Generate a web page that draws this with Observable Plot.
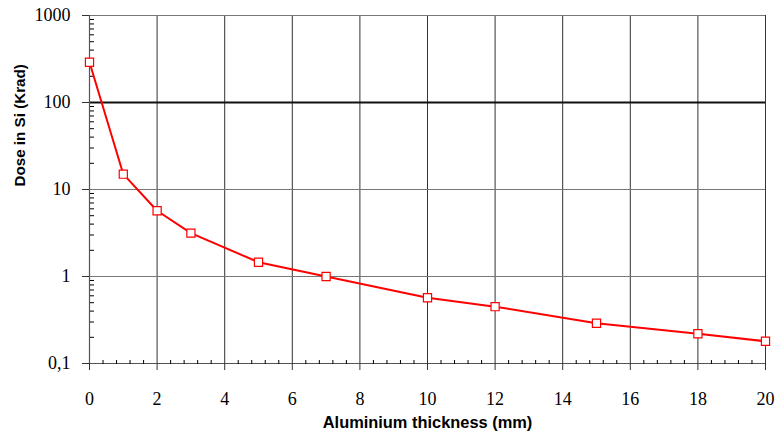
<!DOCTYPE html>
<html>
<head>
<meta charset="utf-8">
<script src="https://cdn.jsdelivr.net/npm/d3@7"></script>
<script src="https://cdn.jsdelivr.net/npm/@observablehq/plot@0.6"></script>
<style>
  body { margin: 0; background: #fff; }
</style>
</head>
<body>
<div id="chart"></div>
<script>
// Dose behind aluminium shielding
const thickness = [0, 1, 2, 3, 5, 7, 10, 12, 15, 18, 20];
const dose = [290, 15, 5.7, 3.15, 1.46, 1.0, 0.57, 0.45, 0.29, 0.22, 0.18];

const xTicks = [0, 2, 4, 6, 8, 10, 12, 14, 16, 18, 20];
const yTicks = [0.1, 1, 10, 100, 1000];
const yTickLabels = ["0,1", "1", "10", "100", "1000"];
const xTitle = "Aluminium thickness (mm)";
const yTitle = "Dose in Si (Krad)";

const points = thickness.map((t, i) => ({thickness: t, dose: dose[i]}));

// minor ticks: every 0.4 mm along x, 2..9 within each decade along y
const xMinor = d3.range(0, 20.001, 0.4).map(v => +v.toFixed(1)).filter(v => Math.abs(v / 2 - Math.round(v / 2)) > 1e-6);
const yMinor = yTicks.slice(0, -1).flatMap(d => d3.range(2, 10).map(m => +(d * m).toPrecision(3)));

const serif = "'Liberation Serif', 'Times New Roman', serif";
const sans = "'Liberation Sans', Arial, sans-serif";

const chart = Plot.plot({
  width: 777,
  height: 436,
  marginLeft: 89,
  marginRight: 12,
  marginTop: 15,
  marginBottom: 73,
  style: {background: "#fff", color: "#000"},
  x: {domain: [0, 20]},
  y: {type: "log", domain: [0.1, 1000]},
  marks: [
    // grid
    Plot.ruleX(xTicks, {stroke: "#333", strokeWidth: 1}),
    Plot.ruleY(yTicks.slice(1), {
      stroke: d => d === 100 ? "#111" : "#777",
      strokeWidth: d => d === 100 ? 1.8 : 1
    }),
    Plot.ruleY([0.1], {stroke: "#555", strokeWidth: 1.2}),
    Plot.ruleX([0], {stroke: "#555", strokeWidth: 1.2}),
    // major axes
    Plot.axisX(xTicks, {
      tickSize: 7, tickPadding: 22, fontSize: 18, fontFamily: serif,
      stroke: "#333", label: null
    }),
    Plot.axisY(yTicks, {
      tickSize: 7, tickPadding: 12, fontSize: 18, fontFamily: serif,
      tickFormat: d => yTickLabels[yTicks.indexOf(d)],
      stroke: "#333", label: null
    }),
    // minor ticks pointing into the plot
    Plot.axisX(xMinor, {anchor: "top", frameAnchor: "bottom", tickSize: 4, fill: "none", stroke: "#000", label: null}),
    Plot.axisY(yMinor, {anchor: "right", frameAnchor: "left", tickSize: 4, fill: "none", stroke: "#000", label: null}),
    // axis titles
    Plot.text([xTitle], {
      frameAnchor: "bottom", dy: 64, text: d => d,
      fontFamily: sans, fontWeight: "bold", fontSize: 16.4, fill: "#000"
    }),
    Plot.text([yTitle], {
      frameAnchor: "left", dx: -69, dy: -3, rotate: -90, text: d => d,
      fontFamily: sans, fontWeight: "bold", fontSize: 15.2, fill: "#000"
    }),
    // data
    Plot.line(points, {x: "thickness", y: "dose", stroke: "#ff0000", strokeWidth: 2}),
    Plot.dot(points, {
      x: "thickness", y: "dose", symbol: "square", r: 4.6,
      fill: "#fff", stroke: "#ff0000", strokeWidth: 1.2
    })
  ]
});

document.getElementById("chart").appendChild(chart);
</script>
</body>
</html>
